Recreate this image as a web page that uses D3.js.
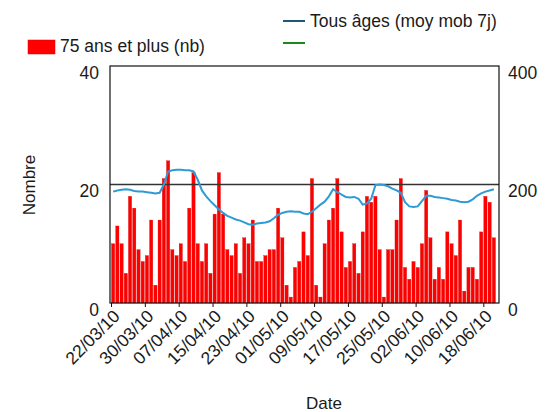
<!DOCTYPE html>
<html>
<head>
<meta charset="utf-8">
<script src="https://cdn.jsdelivr.net/npm/d3@7"></script>
<style>
body { margin: 0; background: #fff; }
text { font-family: "Liberation Sans", Arial, sans-serif; fill: #1a1a1a; }
</style>
</head>
<body>
<svg id="chart" width="547" height="412"></svg>
<script>
//variable definition
var WIDTH = 547;
var HEIGHT = 412;
var MARGIN = {left: 110, right: 48, top: 66, bottom: 109};
var FONT = 17.5;

var START = "22/03/10";
var END = "21/06/10"; // exclusive: last bar is 20/06/10
var TICK_LABELS = ["22/03/10", "30/03/10", "07/04/10", "15/04/10", "23/04/10", "01/05/10",
    "09/05/10", "17/05/10", "25/05/10", "02/06/10", "10/06/10", "18/06/10"];
var LEFT_TICKS = [0, 20, 40];
var RIGHT_TICKS = [0, 200, 400];
var THRESHOLD = 20; // horizontal line (left scale)

// 75 ans et plus (nb), one value per day
var OLD_COUNTS = [10, 13, 10, 5, 18, 16, 9, 7, 8, 14, 3, 14, 21, 24,
    9, 8, 10, 7, 16, 22,
    10, 7, 10, 5, 15, 22,
    15, 9, 8, 10, 5, 11, 10, 14,
    7, 7, 8, 9, 9, 16,
    11, 3, 1, 6, 7, 12, 8, 21,
    3, 1, 10, 14, 16, 21,
    12, 6, 7, 10, 5, 12, 18, 17, 18,
    9, 1, 9, 9, 14, 21,
    6, 4, 7, 6, 10, 19,
    11, 4, 6, 4, 12, 10, 8, 14,
    2, 6, 6, 4, 12, 18, 17, 11];

// Tous ages (moy mob 7j), right scale
var ALL_AGES_MA = [188, 190, 191, 192, 191, 189, 188, 188, 187, 186, 185, 186, 200, 222,
    224, 225, 225, 224, 224, 222,
    208, 190, 180, 172, 165, 158,
    152, 147, 144, 141, 139, 136, 133, 132,
    134, 135, 136, 138, 143, 149,
    152, 154, 155, 154, 154, 151, 150, 154,
    160, 166, 171, 180, 192, 187,
    183, 179, 178, 179, 176, 166, 168, 176, 199,
    200, 199, 197, 193, 190, 186,
    170, 163, 162, 163, 172, 181,
    181, 179, 178, 177, 176, 174, 173, 171,
    170, 171, 175, 181, 185, 188, 190, 192];

var parseDate = d3.timeParse("%d/%m/%y");
var fmtDate = d3.timeFormat("%d/%m/%y");

function main() {
    var days = d3.timeDay.range(parseDate(START), parseDate(END));
    var data = days.map((d, i) => ({date: d, count: OLD_COUNTS[i], avg: ALL_AGES_MA[i]}));

    var plotLeft = MARGIN.left, plotRight = WIDTH - MARGIN.right;
    var plotTop = MARGIN.top, plotBottom = HEIGHT - MARGIN.bottom;

    var xScale = d3.scaleTime()
        .domain([parseDate(START), parseDate(END)])
        .range([plotLeft + 1, plotRight - 3]);
    var yLeft = d3.scaleLinear().domain([0, 40]).range([plotBottom, plotTop]);
    var yRight = d3.scaleLinear().domain([0, 400]).range([plotBottom, plotTop]);

    var svg = d3.select("#chart");
    svg.append("rect").attr("width", WIDTH).attr("height", HEIGHT).attr("fill", "#fff");

    // bars
    var pad = 0.5;
    svg.append("g").selectAll("rect")
        .data(data)
        .join("rect")
        .attr("x", d => xScale(d.date) + pad)
        .attr("width", d => xScale(d3.timeDay.offset(d.date, 1)) - xScale(d.date) - 2 * pad)
        .attr("y", d => yLeft(d.count))
        .attr("height", d => yLeft(0) - yLeft(d.count))
        .attr("fill", "#ff0000")
        .attr("stroke", "#d40000")
        .attr("stroke-width", 0.3);

    // threshold line
    svg.append("line")
        .attr("x1", plotLeft).attr("x2", plotRight)
        .attr("y1", yLeft(THRESHOLD)).attr("y2", yLeft(THRESHOLD))
        .attr("stroke", "#333").attr("stroke-width", 1.3);

    // moving average line
    var halfDay = (xScale(d3.timeDay.offset(days[0], 1)) - xScale(days[0])) / 2;
    var line = d3.line()
        .x(d => xScale(d.date) + halfDay)
        .y(d => yRight(d.avg));
    svg.append("path")
        .datum(data)
        .attr("fill", "none")
        .attr("stroke", "#2f9ad6")
        .attr("stroke-width", 2)
        .attr("d", line);

    // frame
    svg.append("rect")
        .attr("x", plotLeft).attr("y", plotTop)
        .attr("width", plotRight - plotLeft).attr("height", plotBottom - plotTop)
        .attr("fill", "none").attr("stroke", "#111").attr("stroke-width", 1.2);

    // x axis
    var xAxis = d3.axisBottom(xScale)
        .tickValues(TICK_LABELS.map(parseDate))
        .tickFormat(fmtDate)
        .tickSizeOuter(0)
        .tickSize(4);
    var gx = svg.append("g")
        .attr("transform", `translate(0, ${plotBottom})`)
        .call(xAxis);
    gx.select(".domain").remove();
    gx.selectAll("line").attr("stroke", "#111");
    gx.selectAll("text")
        .attr("x", 0).attr("y", 0).attr("dy", "0.35em")
        .attr("text-anchor", "end")
        .attr("transform", "translate(5, 10) rotate(-45)")
        .style("font-size", FONT + "px");

    // left axis
    var gl = svg.append("g")
        .attr("transform", `translate(${plotLeft}, 0)`)
        .call(d3.axisLeft(yLeft).tickValues(LEFT_TICKS).tickSize(0).tickPadding(11));
    gl.select(".domain").remove();
    gl.selectAll("text").attr("dy", "0.71em").style("font-size", FONT + "px");

    // right axis
    var gr = svg.append("g")
        .attr("transform", `translate(${plotRight}, 0)`)
        .call(d3.axisRight(yRight).tickValues(RIGHT_TICKS).tickSize(0).tickPadding(9));
    gr.select(".domain").remove();
    gr.selectAll("text").attr("dy", "0.71em").style("font-size", FONT + "px");

    // axis titles
    svg.append("text")
        .attr("transform", "translate(35, 185) rotate(-90)")
        .attr("text-anchor", "middle")
        .style("font-size", "17px")
        .text("Nombre");
    svg.append("text")
        .attr("x", 324).attr("y", 409)
        .attr("text-anchor", "middle")
        .style("font-size", "17px")
        .text("Date");

    // legend
    var lg = svg.append("g");
    lg.append("line").attr("x1", 283).attr("x2", 305).attr("y1", 21).attr("y2", 21)
        .attr("stroke", "#1e5a78").attr("stroke-width", 2);
    lg.append("text").attr("x", 310).attr("y", 27).style("font-size", FONT + "px")
        .text("Tous âges (moy mob 7j)");
    lg.append("rect").attr("x", 28).attr("y", 40).attr("width", 27).attr("height", 14)
        .attr("fill", "#ff0000").attr("stroke", "#d40000").attr("stroke-width", 0.5);
    lg.append("text").attr("x", 60).attr("y", 52).style("font-size", FONT + "px")
        .text("75 ans et plus (nb)");
    lg.append("line").attr("x1", 283).attr("x2", 305).attr("y1", 43).attr("y2", 43)
        .attr("stroke", "#1a8a1a").attr("stroke-width", 2);
}

main();
</script>
</body>
</html>
